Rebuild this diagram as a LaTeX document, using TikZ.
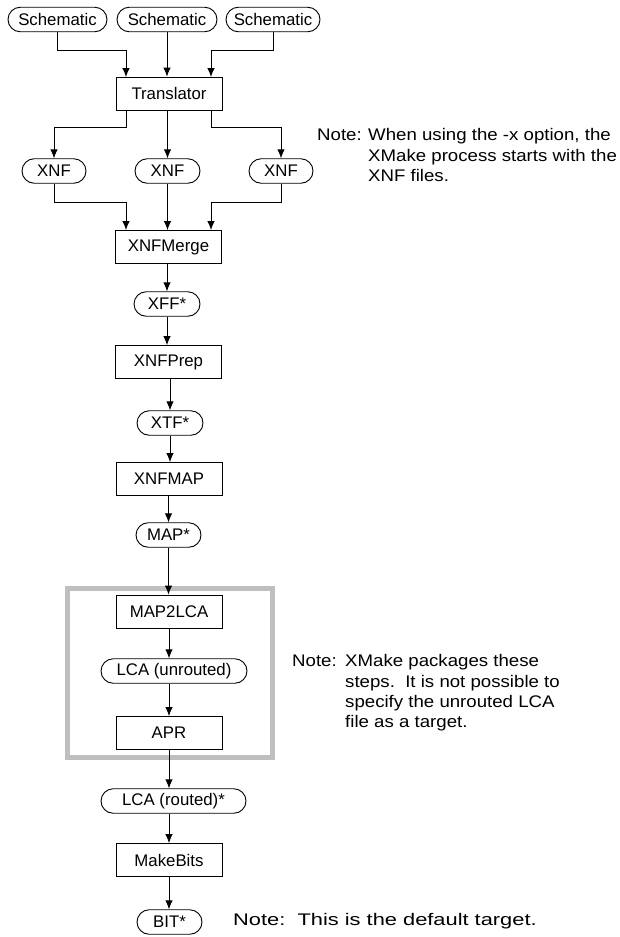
\documentclass[tikz,border=0pt]{standalone}
\usepackage{fontspec}
\setmainfont{Liberation Sans}
\newfontfamily\notefont[FakeStretch=1.11]{Liberation Sans}
\newfontfamily\notefontb[FakeStretch=1.3]{Liberation Sans}
\usetikzlibrary{shapes.misc,arrows.meta}
\begin{document}
\begin{tikzpicture}[x=1pt,y=-1pt,
  font=\fontsize{16.8}{20.2}\selectfont,
  every node/.style={inner sep=0pt},
  procbox/.style={draw,line width=0.9pt,rectangle,minimum width=106pt,minimum height=33pt},
  filebox/.style={draw,line width=0.9pt,rounded rectangle,minimum height=24.5pt},
  arr/.style={line width=0.9pt,-{Latex[length=9pt,width=7.5pt]}},
  notetext/.style={align=left,anchor=north west,font=\notefont\fontsize{16.8}{20.2}\selectfont}
]
\useasboundingbox (0,0) rectangle (619,937);
% top row
\node[filebox,minimum width=99pt] (s1) at (57.5,19.5) {Schematic};
\node[filebox,minimum width=100pt] (s2) at (167,19.5) {Schematic};
\node[filebox,minimum width=94pt] (s3) at (273,19.5) {Schematic};
\node[procbox] (tr) at (169,93.5) {Translator};
\draw[arr] (s1.south) |- (126,50) -- (126,77);
\draw[arr] (s2.south) -- (s2.south |- tr.north);
\draw[arr] (s3.south) |- (211,50) -- (211,77);
% XNF
\node[filebox,minimum width=64pt] (x1) at (54,171) {XNF};
\node[filebox,minimum width=65pt] (x2) at (167.5,171) {XNF};
\node[filebox,minimum width=64pt] (x3) at (281,171) {XNF};
\coordinate (tl) at (126,110);
\coordinate (trr) at (211,110);
\draw[arr] (tl) |- (54,127) -- (x1.north);
\draw[arr] (tr.south -| x2) -- (x2.north);
\draw[arr] (trr) |- (281,127) -- (x3.north);
\node[notetext] (n1a) at (317,128.5) {Note:};
\node[notetext] (n1b) at (368,128.5) {When using the -x option, the\\XMake process starts with the\\XNF files.};
% merge
\node[procbox] (mg) at (168.5,247) {XNFMerge};
\draw[arr] (x1.south) |- (126,202) -- (126,230);
\draw[arr] (x2.south) -- (x2.south |- mg.north);
\draw[arr] (x3.south) |- (211,202) -- (211,230);
% chain
\node[filebox,minimum width=66pt] (xff) at (167,304) {XFF*};
\node[procbox] (prep) at (168.5,362) {XNFPrep};
\node[filebox,minimum width=66pt] (xtf) at (170,423) {XTF*};
\node[procbox] (map) at (169,479) {XNFMAP};
\node[filebox,minimum width=65pt] (mapf) at (168.5,535) {MAP*};
\draw[arr] (mg.south -| xff) -- (xff.north);
\draw[arr] (xff.south) -- (xff.south |- prep.north);
\draw[arr] (prep.south -| xtf) -- (xtf.north);
\draw[arr] (xtf.south) -- (xtf.south |- map.north);
\draw[arr] (map.south -| mapf) -- (mapf.north);
% gray package box
\draw[line width=5pt,gray!50] (67.5,588.5) rectangle (272.5,757.5);
\node[procbox] (m2l) at (169,611.5) {MAP2LCA};
\node[filebox,minimum width=146pt] (lcau) at (174,671) {LCA (unrouted)};
\node[procbox] (apr) at (169,733) {APR};
\draw[arr] (mapf.south) -- (mapf.south |- m2l.north);
\draw[arr] (m2l.south) -- (m2l.south |- lcau.north);
\draw[arr] (lcau.south -| m2l) -- (apr.north);
\node[notetext] (n2a) at (292,654.5) {Note:};
\node[notetext] (n2b) at (345,654.5) {XMake packages these\\steps.\ \ It is not possible to\\specify the unrouted LCA\\file as a target.};
% bottom
\node[filebox,minimum width=145pt] (lcar) at (173.5,801) {LCA (routed)*};
\node[procbox] (mb) at (169,860) {MakeBits};
\node[filebox,minimum width=65pt] (bit) at (169.5,922) {BIT*};
\draw[arr] (apr.south) -- (apr.south |- lcar.north);
\draw[arr] (lcar.south -| apr) -- (mb.north);
\draw[arr] (mb.south) -- (mb.south |- bit.north);
\node[anchor=west,font=\notefontb\fontsize{16.8}{20.2}\selectfont] (n3) at (233,921) {Note:\ \ This is the default target.};
\end{tikzpicture}
\end{document}
